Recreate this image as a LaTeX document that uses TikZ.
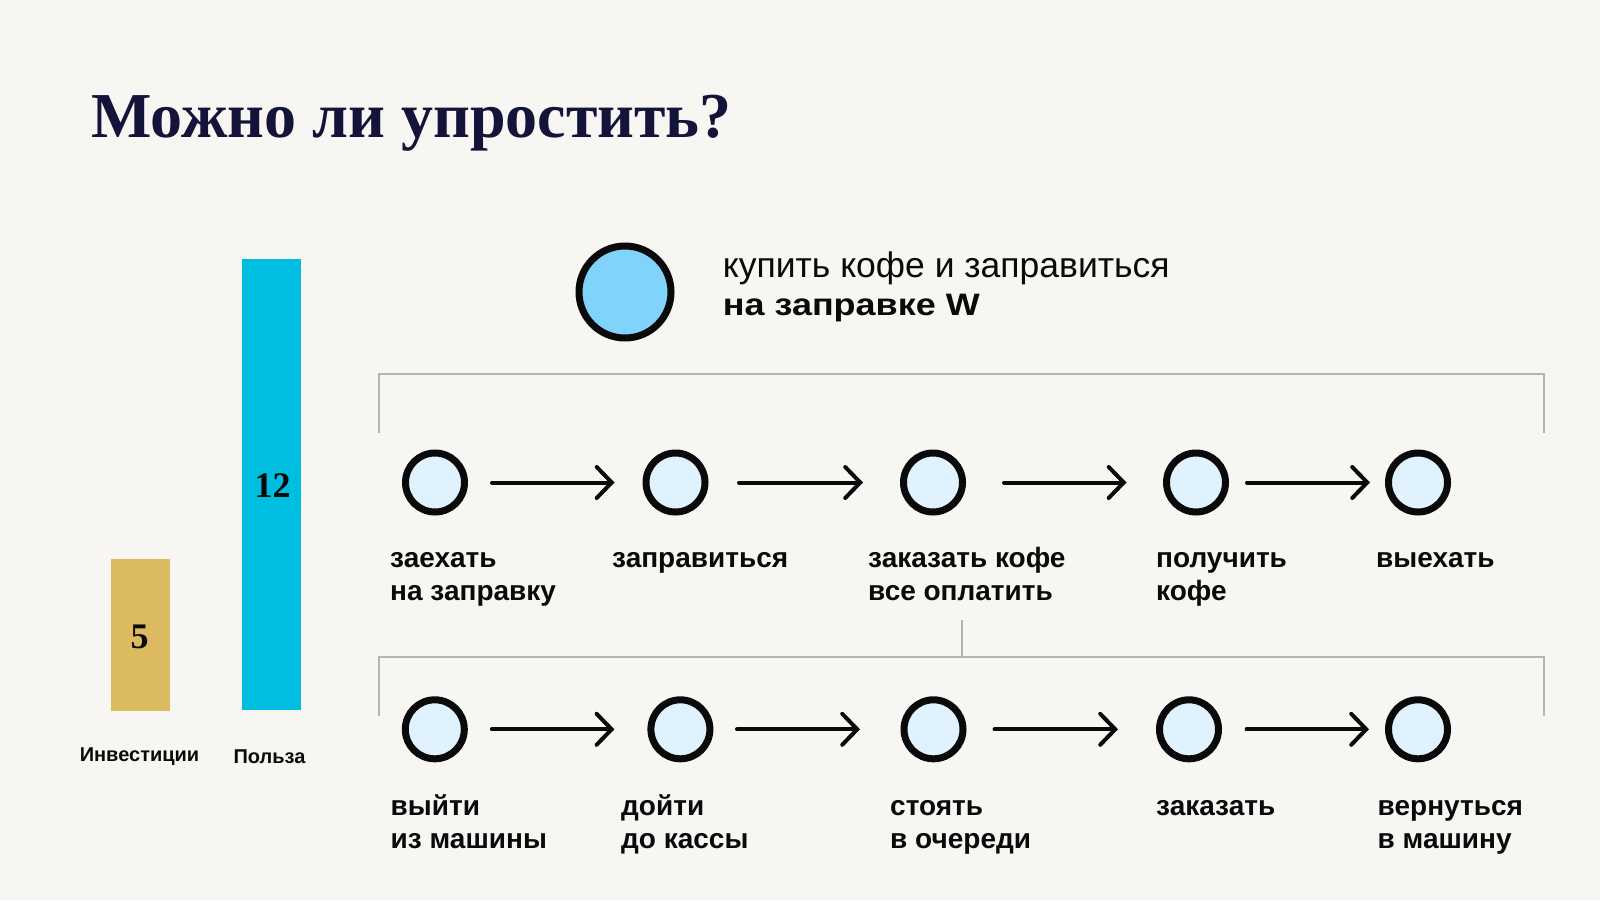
\documentclass[tikz,border=0pt]{standalone}
\usepackage{fontspec}
\setmainfont{Liberation Sans}
\newfontfamily\titlefont{Liberation Serif}
\newfontfamily\widefont[FakeStretch=1.16]{Liberation Sans}
\usetikzlibrary{arrows.meta}
\definecolor{bgc}{HTML}{F8F6F3}
\definecolor{titlec}{HTML}{14133A}
\definecolor{goldc}{HTML}{DBBA60}
\definecolor{cyanc}{HTML}{00BEE0}
\definecolor{bigfill}{HTML}{80D4FC}
\definecolor{smallfill}{HTML}{E0F2FD}
\definecolor{brackc}{HTML}{B4B4B4}
\definecolor{inkc}{HTML}{0A0A0A}
\newcommand{\twolines}[2]{\begin{tabular}[t]{@{}l@{}}#1\\#2\end{tabular}}
\tikzset{
  stepnode/.style={circle,draw=inkc,fill=smallfill,line width=7pt,minimum size=59pt,inner sep=0pt},
  bignode/.style={circle,draw=inkc,fill=bigfill,line width=7pt,minimum size=92pt,inner sep=0pt},
  arr/.style={draw=inkc,line width=4pt,line cap=round,-{Straight Barb[length=15pt,width=31pt,line cap=round]}},
  lbl/.style={anchor=base west,inner sep=0pt,font=\fontsize{28}{33}\selectfont\bfseries,text=inkc},
  brack/.style={draw=brackc,line width=2pt},
  barlbl/.style={anchor=center,inner sep=0pt,font=\fontsize{20}{24}\selectfont\bfseries,text=inkc},
  barnum/.style={anchor=center,inner sep=0pt,font=\titlefont\fontsize{36}{40}\selectfont\bfseries,text=inkc}
}
\begin{document}
\begin{tikzpicture}[x=1pt,y=-1pt]
\fill[bgc] (0,0) rectangle (1600,900);
\useasboundingbox (0,0) rectangle (1600,900);
% title
\node[anchor=base west,inner sep=0pt,text=titlec,font=\titlefont\fontsize{64}{70}\selectfont\bfseries] (title) at (91,137) {Можно ли упростить?};
% bars
\fill[goldc] (110.7,559) rectangle (169.7,710.7);
\fill[cyanc] (241.7,258.7) rectangle (301.3,710);
\node[barnum] (n5) at (139.5,636.5) {5};
\node[barnum] (n12) at (272.5,485.5) {12};
\node[barlbl] (binv) at (139.5,757) {Инвестиции};
\node[barlbl] (bpol) at (269.5,757) {Польза};
% goal
\node[bignode] (goal) at (625,292) {};
\node[anchor=base west,inner sep=0pt,font=\fontsize{35.5}{40}\selectfont,text=inkc] (g1) at (722.7,277.3) {купить кофе и заправиться};
\node[anchor=base west,inner sep=0pt,font=\widefont\fontsize{31}{34}\selectfont\bfseries,text=inkc] (g2) at (722.7,315.5) {на заправке W};
% brackets
\draw[brack] (378.5,432.7) -- (378.5,374) -- (1544,374) -- (1544,432.7);
\draw[brack] (378.5,716) -- (378.5,656.5) -- (1544,656.5) -- (1544,716);
\draw[brack] (961.5,620) -- (961.5,656.5);
% row 1
\node[stepnode] (a1) at (435,482.5) {};
\node[stepnode] (a2) at (675.5,482.5) {};
\node[stepnode] (a3) at (933,482.5) {};
\node[stepnode] (a4) at (1196,482.5) {};
\node[stepnode] (a5) at (1418,482.5) {};
\draw[arr] ([xshift=24pt]a1.east) -- ([xshift=-28pt]a2.west);
\draw[arr] ([xshift=30.5pt]a2.east) -- ([xshift=-37pt]a3.west);
\draw[arr] ([xshift=38pt]a3.east) -- ([xshift=-36.5pt]a4.west);
\draw[arr] ([xshift=18pt]a4.east) -- ([xshift=-15pt]a5.west);
\node[lbl] (la1) at (390,567.3) {\twolines{заехать}{на заправку}};
\node[lbl] (la2) at (612,567.3) {заправиться};
\node[lbl] (la3) at (868,567.3) {\twolines{заказать кофе}{все оплатить}};
\node[lbl] (la4) at (1156,567.3) {\twolines{получить}{кофе}};
\node[lbl] (la5) at (1376,567.3) {выехать};
% row 2
\node[stepnode] (b1) at (434.8,729.3) {};
\node[stepnode] (b2) at (680.4,729.3) {};
\node[stepnode] (b3) at (933.5,729.3) {};
\node[stepnode] (b4) at (1189,729.3) {};
\node[stepnode] (b5) at (1418,729.3) {};
\draw[arr] ([xshift=24pt]b1.east) -- ([xshift=-33pt]b2.west);
\draw[arr] ([xshift=23.6pt]b2.east) -- ([xshift=-40.5pt]b3.west);
\draw[arr] ([xshift=28pt]b3.east) -- ([xshift=-38pt]b4.west);
\draw[arr] ([xshift=24.6pt]b4.east) -- ([xshift=-16pt]b5.west);
\node[lbl] (lb1) at (390.5,815) {\twolines{выйти}{из машины}};
\node[lbl] (lb2) at (621,815) {\twolines{дойти}{до кассы}};
\node[lbl] (lb3) at (890,815) {\twolines{стоять}{в очереди}};
\node[lbl] (lb4) at (1156,815) {заказать};
\node[lbl] (lb5) at (1377.5,815) {\twolines{вернуться}{в машину}};
\end{tikzpicture}
\end{document}
